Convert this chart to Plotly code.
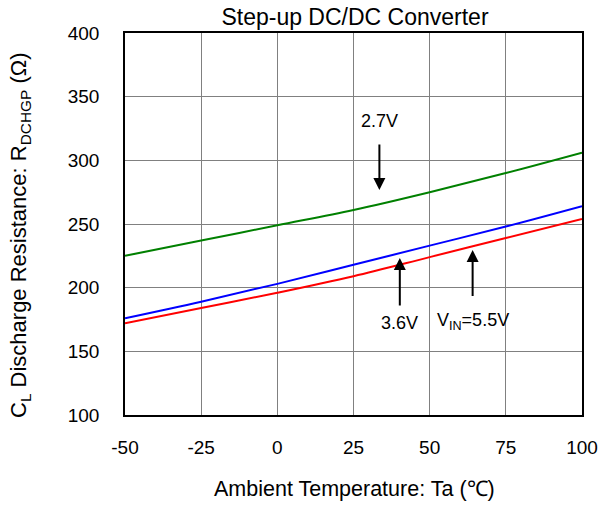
import plotly.graph_objects as go

temps = [-50, -25, 0, 25, 50, 75, 100]
r_27v = [225, 237, 249, 261, 275, 290, 306]
r_36v = [176, 189, 203, 218, 233, 248, 264]
r_55v = [172, 184, 196, 209, 224, 239, 254]

x_ticks = [-50, -25, 0, 25, 50, 75, 100]
y_ticks = [100, 150, 200, 250, 300, 350, 400]

font = "Liberation Sans, Arial, sans-serif"

W, H = 600, 505
L, R, T, B = 125, 18, 33, 90
PW, PH = W - L - R, H - T - B

fig = go.Figure()
fig.add_trace(go.Scatter(x=temps, y=r_27v, mode="lines", line=dict(color="#008000", width=2), line_shape="spline", name="2.7V"))
fig.add_trace(go.Scatter(x=temps, y=r_36v, mode="lines", line=dict(color="#0000ff", width=2), line_shape="spline", name="3.6V"))
fig.add_trace(go.Scatter(x=temps, y=r_55v, mode="lines", line=dict(color="#ff0000", width=2), line_shape="spline", name="5.5V"))

axis_common = dict(showgrid=True, gridcolor="#808080", gridwidth=1, showline=True, linecolor="black",
                   linewidth=1.5, mirror=True, ticks="", zeroline=False, automargin=False,
                   tickfont=dict(family=font, size=19, color="black"))

fig.update_xaxes(range=[-50, 100], tickvals=x_ticks, ticktext=[str(t) for t in x_ticks],
                 ticklabelstandoff=14, **axis_common)
fig.update_yaxes(range=[100, 400], tickvals=y_ticks, ticktext=[str(t) for t in y_ticks],
                 ticklabelstandoff=20, **axis_common)

ann_font = dict(family=font, size=18, color="black")
title_font = dict(family=font, size=23, color="black")


def px_x(p):
    return (p - L) / PW


def px_y(p):
    return (H - B - p) / PH


annotations = [
    dict(x=33.5, y=276.7, ax=0, ay=-69, text="2.7V", showarrow=True, startstandoff=12,
         arrowhead=2, arrowsize=1.2, arrowwidth=2, arrowcolor="black", font=ann_font),
    dict(x=40.2, y=223.3, ax=0, ay=65, text="3.6V", showarrow=True, startstandoff=6,
         arrowhead=2, arrowsize=1.2, arrowwidth=2, arrowcolor="black", font=ann_font),
    dict(x=64.1, y=229.6, ax=0, ay=72, text="V<sub>IN</sub>=5.5V", showarrow=True, startstandoff=13,
         arrowhead=2, arrowsize=1.2, arrowwidth=2, arrowcolor="black", font=ann_font),
    dict(xref="paper", yref="paper", x=px_x(354), y=px_y(489), text="Ambient Temperature: Ta (℃)",
         showarrow=False, xanchor="center", yanchor="middle", font=dict(family=font, size=21.5, color="black")),
    dict(xref="paper", yref="paper", x=px_x(20), y=px_y(236),
         text="C<sub>L</sub> Discharge Resistance: R<sub>DCHGP</sub> (Ω)", textangle=-90,
         showarrow=False, xanchor="center", yanchor="middle", font=dict(family=font, size=22, color="black")),
]

fig.update_layout(
    width=W, height=H,
    margin=dict(l=L, r=R, t=T, b=B),
    paper_bgcolor="white", plot_bgcolor="white",
    showlegend=False,
    title=dict(text="Step-up DC/DC Converter", x=355 / W, xanchor="center", automargin=False,
               y=1 - 17 / H, yanchor="middle", font=title_font),
    annotations=annotations,
)

fig.write_html("out.html", config={"displayModeBar": False},
               post_script="document.body.style.margin='0px';document.body.style.overflow='hidden';")
